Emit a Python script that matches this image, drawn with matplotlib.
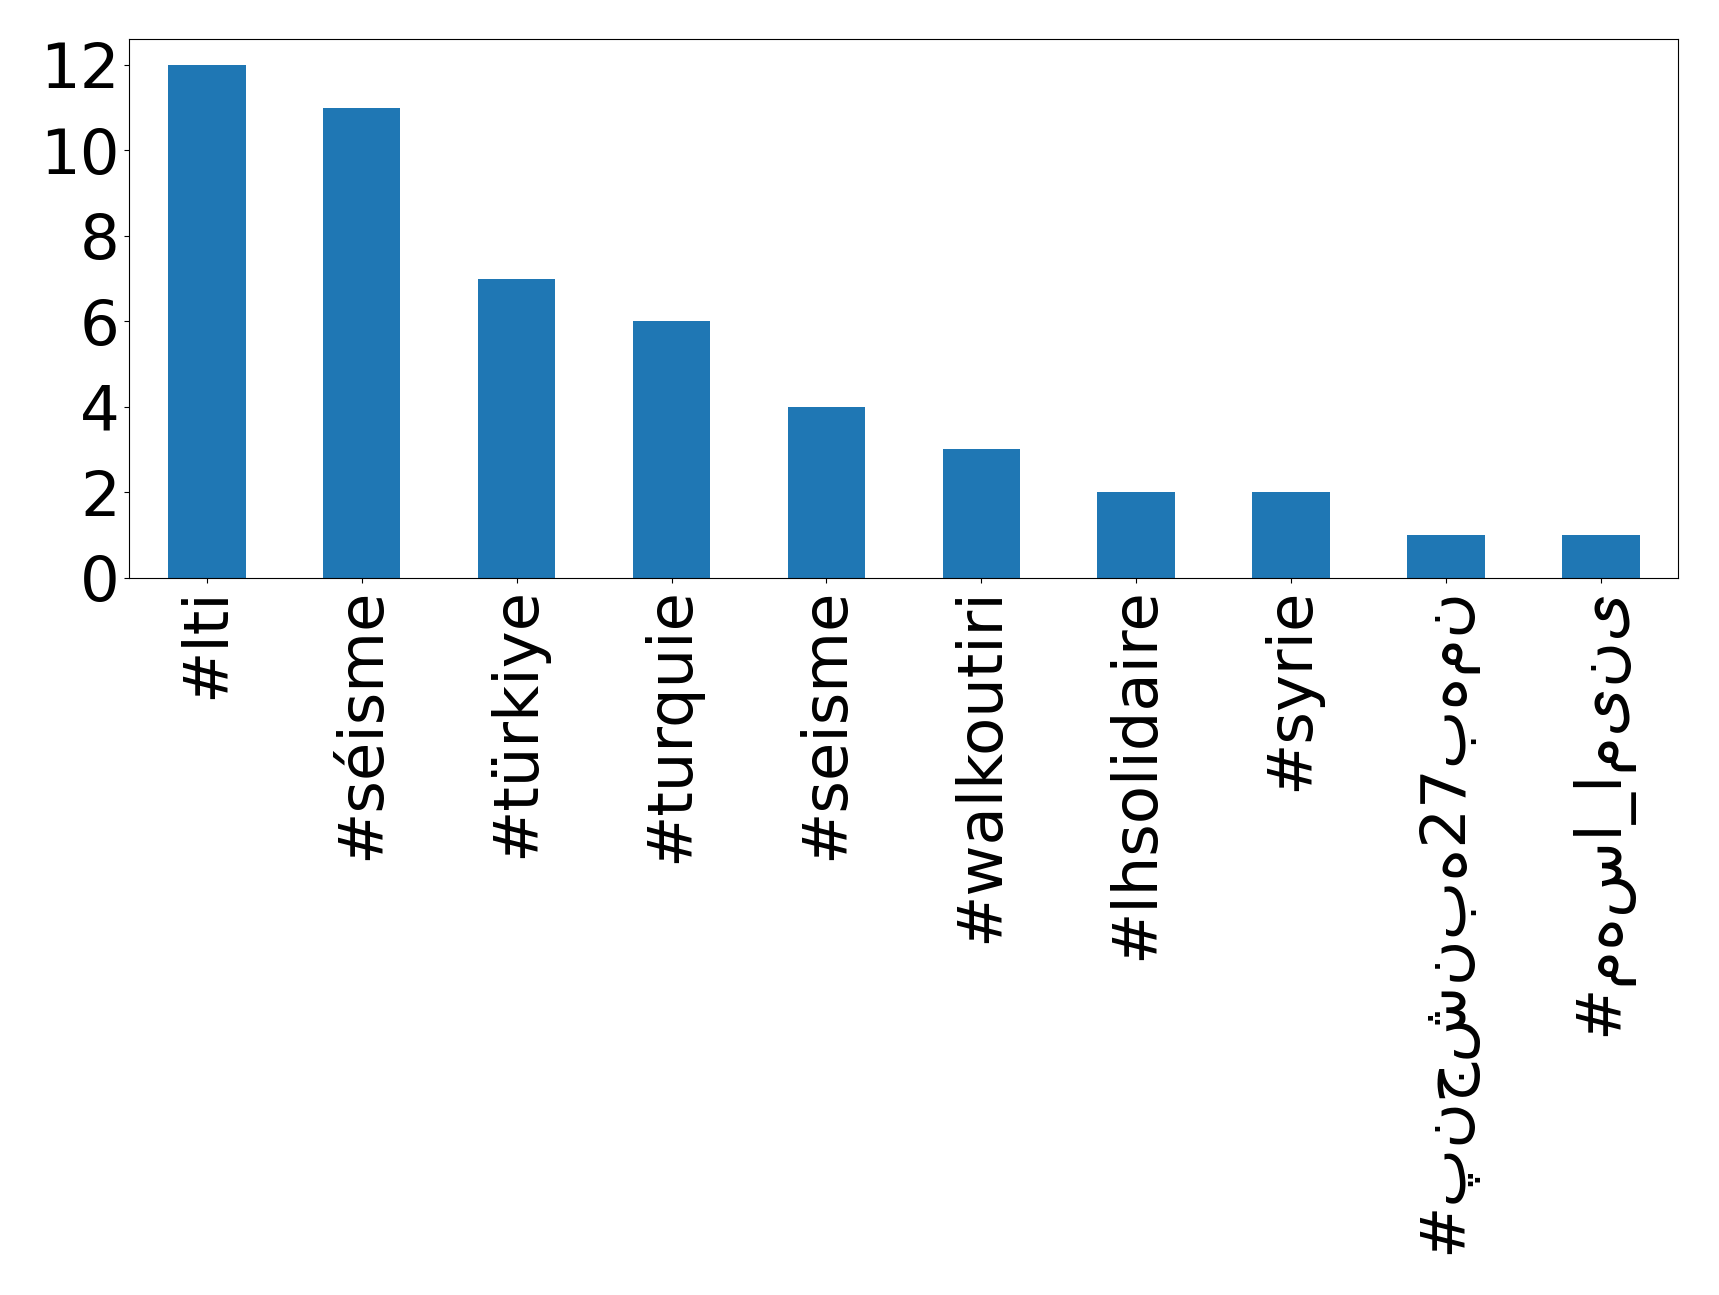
import matplotlib
matplotlib.use("Agg")
import matplotlib.pyplot as plt

hashtags = ["#lti", "#séisme", "#türkiye", "#turquie", "#seisme",
            "#walkoutiri", "#lhsolidaire", "#syrie",
            "#پنجشنبه27بهمن", "#مهسا_امینی"]
counts = [12, 11, 7, 6, 4, 3, 2, 2, 1, 1]

fig = plt.figure(figsize=(17.19, 12.95), dpi=100)
ax = fig.add_axes([0.0753, 0.554, 0.901, 0.4156])

positions = range(len(hashtags))
ax.bar(positions, counts, width=0.5, color="#1f77b4")
ax.set_xlim(-0.5, len(hashtags) - 0.5)
ax.set_xticks(list(positions))
ax.set_xticklabels(hashtags, rotation=90, fontsize=45)
ax.set_yticks([0, 2, 4, 6, 8, 10, 12])
ax.tick_params(axis="y", labelsize=45)

fig.savefig("out.png", dpi=100)
